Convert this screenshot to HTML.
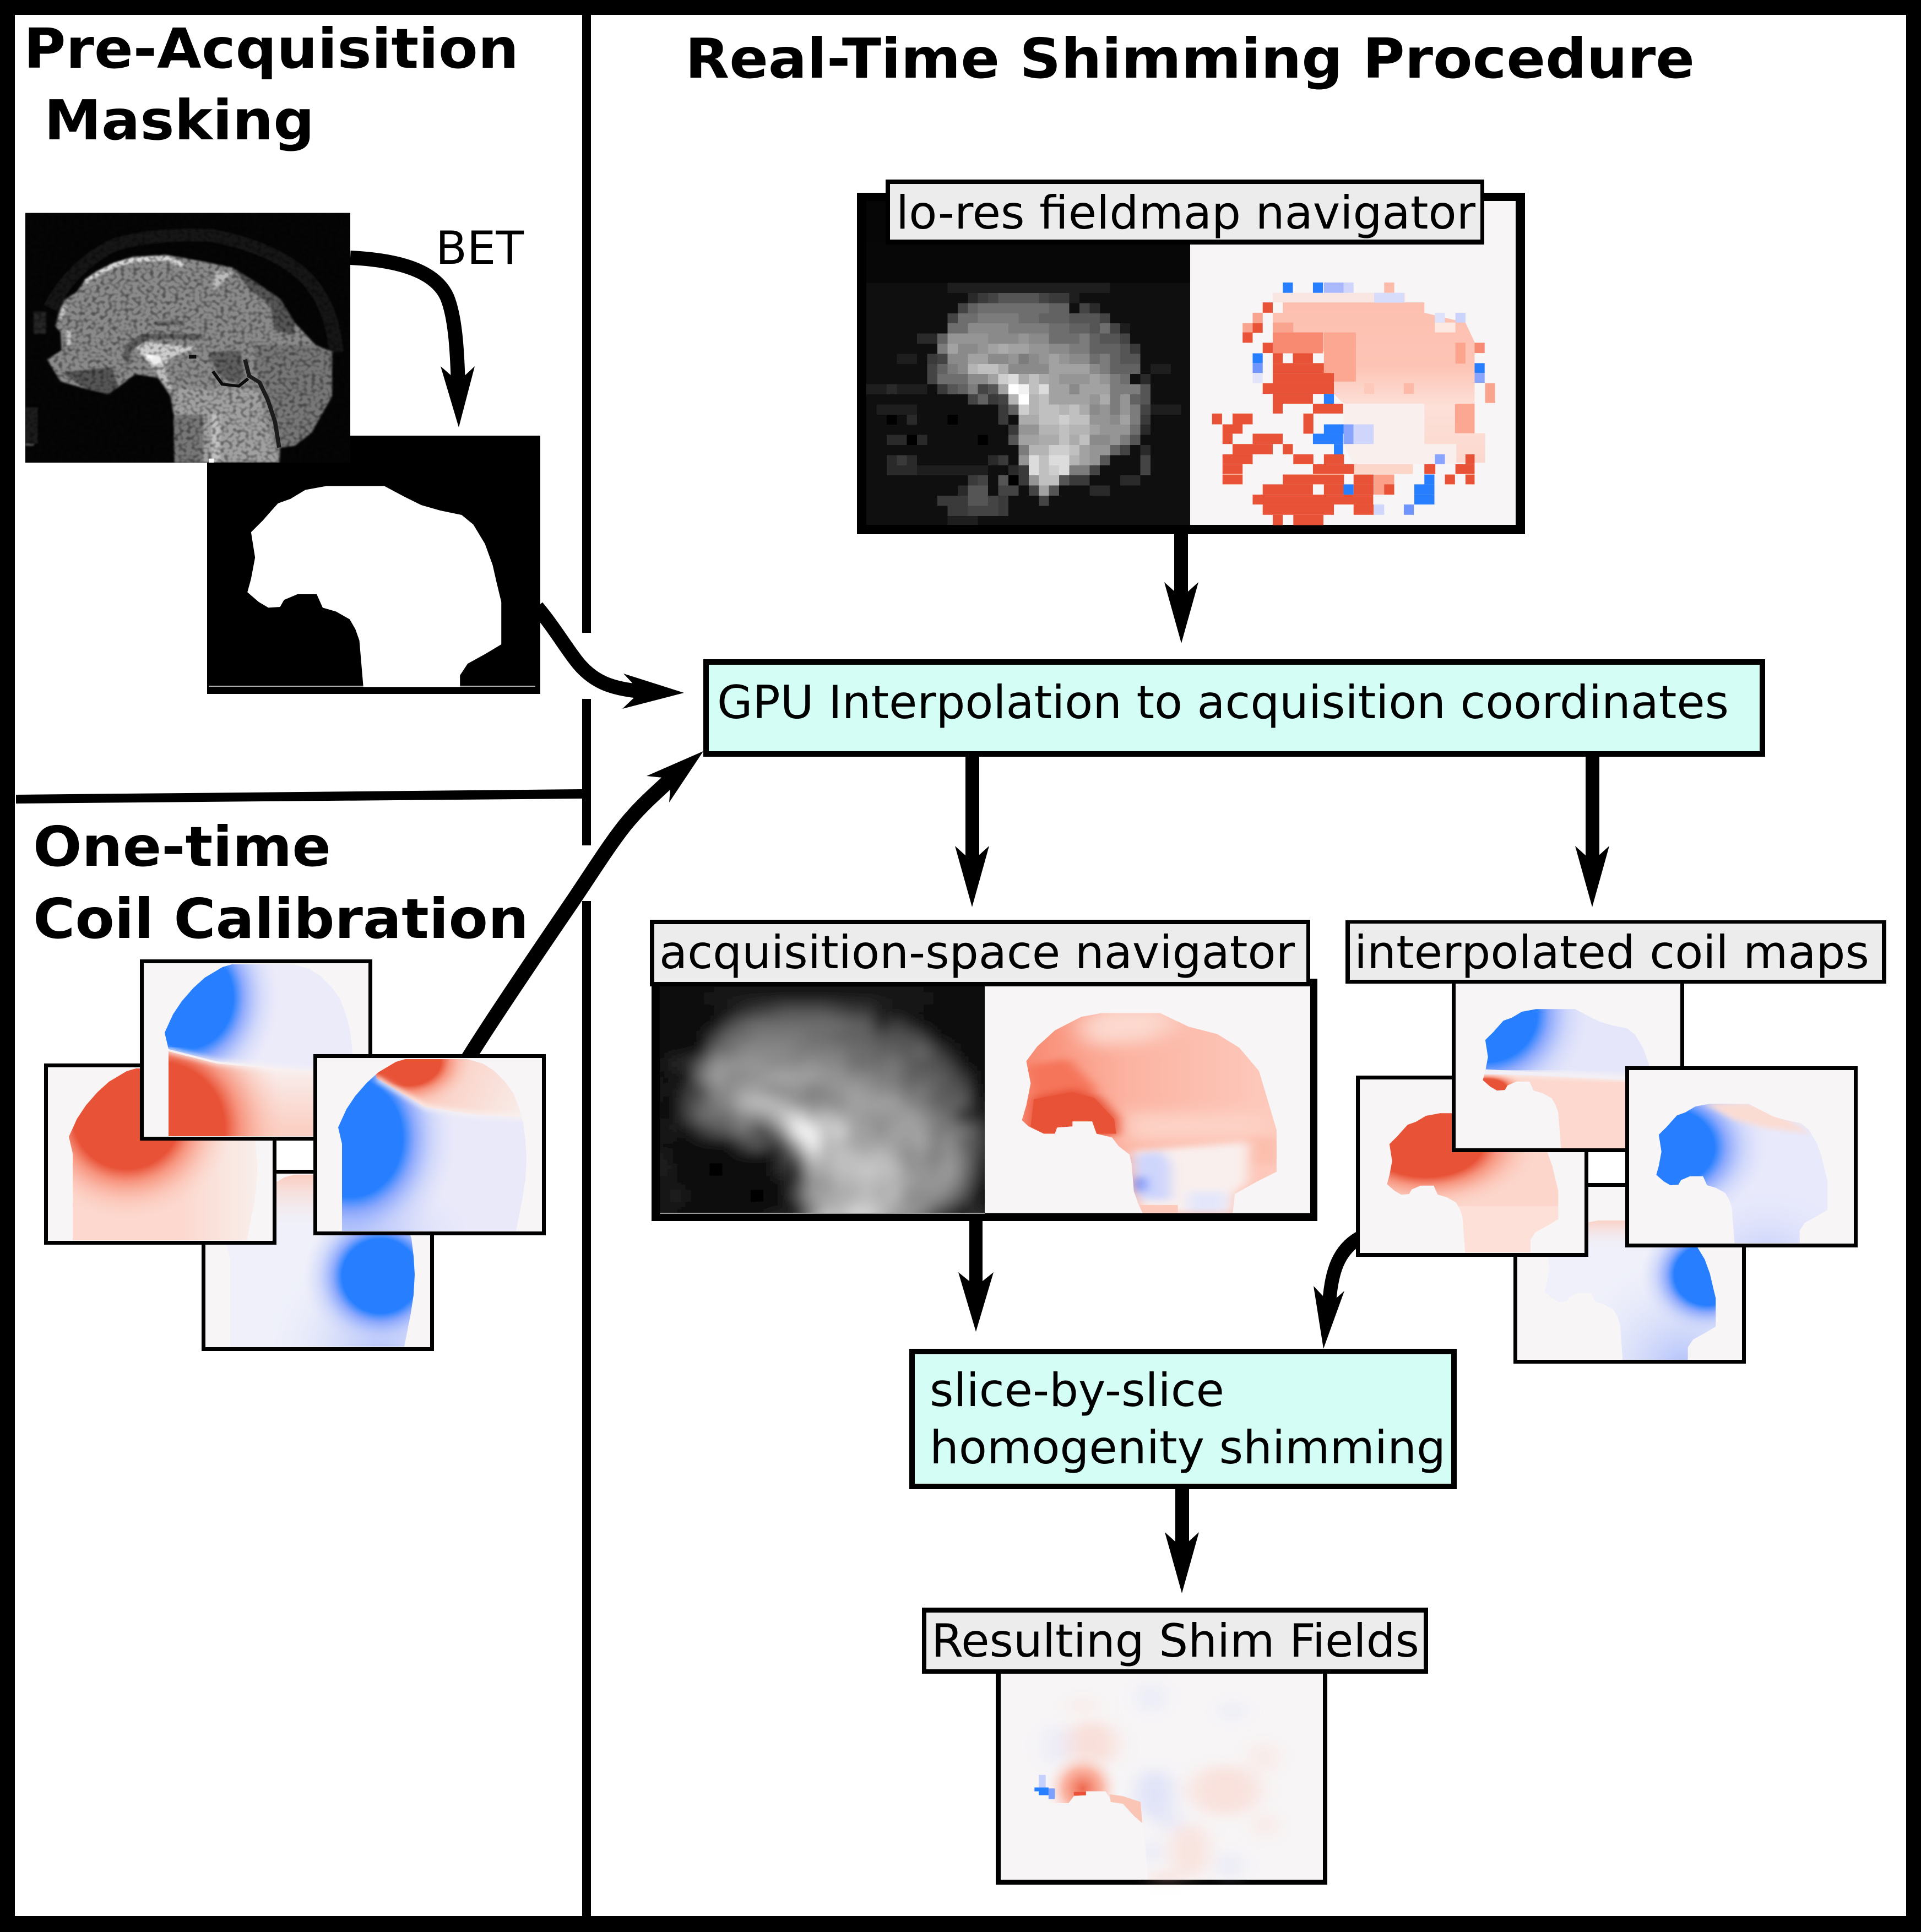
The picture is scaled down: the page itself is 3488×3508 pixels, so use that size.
<!DOCTYPE html>
<html><head><meta charset="utf-8"><style>html,body{margin:0;padding:0;background:#fff}svg{display:block}
text{font-family:"DejaVu Sans","Liberation Sans",sans-serif;fill:#000}
.b{font-weight:bold;font-size:100px}.n{font-size:83px}</style></head><body>
<svg xmlns="http://www.w3.org/2000/svg" width="3488" height="3508" viewBox="0 0 3488 3508">
<defs>
<clipPath id="cb"><path transform="scale(.408 .314)" d="M469,1000L457,793L445,749L428,711L387,681L347,666L329,614L271,614L231,636L219,663L184,666L155,644L121,606L132,554L144,472L132,374L167,329L190,295L213,262L250,245L295,210L358,195L532,195L590,235L643,269L700,290L764,307L799,344L834,419L857,501L869,569L883,644L883,808L834,846L782,883L759,928L759,1000Z"/></clipPath>
<clipPath id="ch"><path d="M45,314L45,156L38,126L53,93L69,69L90,45L111,26L143,7L160,2L272,2L300,10L321,23L340,42L356,64L366,90L374,118L378,150L380,183L378,220L373,253L361,314Z"/></clipPath>
<linearGradient id="sb"><stop offset="0" stop-color="#277fff"/><stop offset=".5" stop-color="#277fff"/><stop offset=".62" stop-color="#7f9ffd" stop-opacity=".85"/><stop offset=".8" stop-color="#b9c7fb" stop-opacity=".5"/><stop offset="1" stop-color="#d5dbfb" stop-opacity="0"/></linearGradient>
<linearGradient id="sr"><stop offset="0" stop-color="#e85338"/><stop offset=".5" stop-color="#e85338"/><stop offset=".62" stop-color="#f68a72" stop-opacity=".85"/><stop offset=".8" stop-color="#fbb6a5" stop-opacity=".5"/><stop offset="1" stop-color="#fcd6cb" stop-opacity="0"/></linearGradient>
<radialGradient id="ga" href="#sb" gradientUnits="userSpaceOnUse" cx="0" cy="0" r="1" gradientTransform="translate(80 62) scale(165 185)"/>
<radialGradient id="ra" href="#sr" gradientUnits="userSpaceOnUse" cx="0" cy="0" r="1" gradientTransform="translate(30 300) scale(235 240)"/>
<radialGradient id="rb" href="#sr" gradientUnits="userSpaceOnUse" cx="0" cy="0" r="1" gradientTransform="translate(143 90) scale(195 190)"/>
<radialGradient id="gc" href="#sb" gradientUnits="userSpaceOnUse" cx="0" cy="0" r="1" gradientTransform="translate(318 186) scale(140 135)"/>
<radialGradient id="gc2" gradientUnits="userSpaceOnUse" cx="0" cy="0" r="1" gradientTransform="translate(320 330) scale(220 220)"><stop offset="0" stop-color="#b0c0fb"/><stop offset="1" stop-color="#eff0fa" stop-opacity="0"/></radialGradient>
<linearGradient id="pc" gradientUnits="userSpaceOnUse" x1="0" y1="0" x2="0" y2="100"><stop offset="0" stop-color="#fbcabc"/><stop offset="1" stop-color="#f7efef" stop-opacity="0"/></linearGradient>
<linearGradient id="pg" gradientUnits="userSpaceOnUse" x1="0" y1="60" x2="0" y2="115"><stop offset="0" stop-color="#fbd0c4"/><stop offset="1" stop-color="#f2f0fa" stop-opacity="0"/></linearGradient>
<linearGradient id="lb" gradientUnits="userSpaceOnUse" x1="240" y1="0" x2="385" y2="0"><stop offset="0" stop-color="#f8efec" stop-opacity="0"/><stop offset="1" stop-color="#f8efec"/></linearGradient>
<linearGradient id="la" gradientUnits="userSpaceOnUse" x1="0" y1="190" x2="0" y2="300"><stop offset="0" stop-color="#f8efee"/><stop offset="1" stop-color="#fbd0c4"/></linearGradient>
<linearGradient id="ld" gradientUnits="userSpaceOnUse" x1="170" y1="10" x2="390" y2="110"><stop offset="0" stop-color="#fbc4b5"/><stop offset="1" stop-color="#f8f0ee"/></linearGradient>
<radialGradient id="gd" href="#sb" gradientUnits="userSpaceOnUse" cx="0" cy="0" r="1" gradientTransform="translate(60 145) scale(190 215)"/>
<radialGradient id="gd2" gradientUnits="userSpaceOnUse" cx="0" cy="0" r="1" gradientTransform="translate(60 325) scale(230 130)"><stop offset="0" stop-color="#a3b6fc"/><stop offset="1" stop-color="#e9e9fa" stop-opacity="0"/></radialGradient>
<radialGradient id="rd" href="#sr" gradientUnits="userSpaceOnUse" cx="0" cy="0" r="1" gradientTransform="translate(165 5) scale(120 90)"/>
<radialGradient id="ge" href="#sb" gradientUnits="userSpaceOnUse" cx="0" cy="0" r="1" gradientTransform="translate(55 70) scale(186 175)"/>
<radialGradient id="re" href="#sr" gradientUnits="userSpaceOnUse" cx="0" cy="0" r="1" gradientTransform="translate(55 205) scale(75 35)"/>
<radialGradient id="rf" href="#sr" gradientUnits="userSpaceOnUse" cx="0" cy="0" r="1" gradientTransform="translate(120 115) scale(210 125)"/>
<radialGradient id="gg" href="#sb" gradientUnits="userSpaceOnUse" cx="0" cy="0" r="1" gradientTransform="translate(345 160) scale(120 110)"/>
<radialGradient id="gh" href="#sb" gradientUnits="userSpaceOnUse" cx="0" cy="0" r="1" gradientTransform="translate(60 140) scale(190 145)"/>
<radialGradient id="gh2" gradientUnits="userSpaceOnUse" cx="0" cy="0" r="1" gradientTransform="translate(250 330) scale(170 120)"><stop offset="0" stop-color="#c9d2fb"/><stop offset="1" stop-color="#e8e9fb" stop-opacity="0"/></radialGradient>
<radialGradient id="fr" gradientUnits="userSpaceOnUse" cx="0" cy="0" r="1" gradientTransform="translate(495 990) scale(110 200)"><stop offset="0" stop-color="#ee6a50"/><stop offset=".5" stop-color="#fbb7a6"/><stop offset="1" stop-color="#f7f5f6" stop-opacity="0"/></radialGradient>
<linearGradient id="lp" gradientUnits="userSpaceOnUse" x1="0" y1="558" x2="0" y2="1210"><stop offset="0" stop-color="#fdc0b0"/><stop offset=".4" stop-color="#fdc4b5"/><stop offset=".65" stop-color="#fde0d8"/><stop offset="1" stop-color="#fbd8ce"/></linearGradient>
<linearGradient id="an" gradientUnits="userSpaceOnUse" x1="895" y1="0" x2="1465" y2="0"><stop offset="0" stop-color="#f88a72"/><stop offset=".4" stop-color="#fcb3a1"/><stop offset="1" stop-color="#fdcabd"/></linearGradient>
<filter id="bl" x="-10%" y="-10%" width="120%" height="120%"><feGaussianBlur stdDeviation="14"/></filter>
<filter id="bx" x="-20%" y="-20%" width="140%" height="140%"><feGaussianBlur stdDeviation="30"/></filter>
<filter id="bs" x="-10%" y="-10%" width="120%" height="120%"><feGaussianBlur stdDeviation="5"/></filter>
<filter id="gb" x="-5%" y="-5%" width="110%" height="110%"><feGaussianBlur stdDeviation=".55"/></filter>
<filter id="nz" x="0" y="0" width="100%" height="100%"><feTurbulence type="fractalNoise" baseFrequency=".05" numOctaves="1" seed="4"/><feColorMatrix values="0 0 0 0 0 0 0 0 0 0 0 0 0 0 0 0 0 0 3 -1.3"/><feComposite in2="SourceAlpha" operator="in"/></filter>
<clipPath id="acl"><rect x="1198" y="1791" width="590" height="412"/></clipPath>
<clipPath id="abr"><polygon points="1130,1000 1105,965 1090,930 1055,915 1045,865 1000,865 1000,885 965,890 960,915 935,915 900,885 885,860 895,800 905,710 895,620 920,560 960,495 1020,440 1065,425 1200,425 1265,480 1330,510 1380,565 1425,660 1440,750 1465,900 1465,1070 1420,1110 1370,1160 1365,1238 1160,1238 1150,1200 1140,1150 1135,1040"/></clipPath>
<g id="lr">
<rect width="32" height="28" fill="#0f0f0f"/><rect width="32" height="4" fill="#070707"/>
<path fill="#1e1e1e" d="M8 4h16v1h-16zM20 5h1v1h-1zM25 8h1v1h-1zM8 27h3v1h-3zM0 14h6v1h-6zM1 16h4v1h-4zM2 22h10v1h-10zM25 14h0v0zM28 16h3v1h-3zM3 11h2v1h-2zM28 12h2v1h-2z"/>
<path fill="#2a2a2a" d="M10 5h1v1h-1zM22 6h1v1h-1zM5 9h2v1h-2zM27 13h1v1h-1zM2 14h1v1h-1zM4 17h1v1h-1zM27 18h1v1h-1zM2 19h2v1h-2zM5 19h1v1h-1zM27 20h1v1h-1zM2 21h1v1h-1zM4 21h1v1h-1zM12 21h1v1h-1zM2 22h3v1h-3zM14 22h1v1h-1zM25 23h2v1h-2zM9 24h1v1h-1zM22 24h2v1h-2z"/>
<path fill="#3a3a3a" d="M11 5h1v1h-1zM18 5h1v1h-1zM6 11h1v1h-1zM12 15h1v1h-1zM7 14h1v1h-1zM13 16h1v1h-1zM13 17h1v1h-1zM3 21h1v1h-1zM13 21h1v1h-1zM15 22h1v1h-1zM10 23h1v1h-1zM15 23h1v1h-1zM20 23h2v1h-2zM7 25h3v1h-3zM13 25h1v1h-1zM13 26h1v1h-1zM8 26h2v1h-2zM26 10h1v1h-1zM19 5h1v1h-1zM14 18h1v1h-1zM27 17h1v1h-1z"/>
<path fill="#444" d="M12 5h1v1h-1zM17 5h1v1h-1zM9 6h1v1h-1zM21 6h1v1h-1zM8 7h1v1h-1zM23 7h1v1h-1zM24 8h1v1h-1zM25 9h1v1h-1zM6 12h1v1h-1zM7 11h1v1h-1zM6 13h1v1h-1zM10 15h1v1h-1zM11 14h1v1h-1zM13 15h1v1h-1zM27 16h1v1h-1zM25 20h1v1h-1zM27 21h1v2h-1zM22 22h1v1h-1zM11 23h1v1h-1zM13 24h2v1h-2zM16 24h1v1h-1zM12 25h1v1h-1zM17 25h1v1h-1zM10 26h3v1h-3z"/>
<path fill="#555" d="M13 5h4v1h-4zM20 6h0v0zM20 7h3v1h-3zM22 8h1v1h-1zM23 9h2v1h-2zM25 10h1v1h-1zM25 11h1v1h-1zM26 11h1v1h-1zM8 14h1v1h-1zM12 14h1v1h-1zM27 14h1v2h-1zM14 19h1v1h-1zM26 19h1v1h-1zM23 21h1v1h-1zM13 23h1v1h-1zM10 24h2v1h-2zM10 25h2v1h-2zM19 23h1v1h-1zM18 24h1v1h-1z"/>
<path fill="#626262" d="M10 6h1v1h-1zM17 7h3v1h-3zM18 6h2v1h-2zM20 8h2v1h-2zM22 9h1v1h-1zM24 10h1v1h-1zM22 10h2v1h-2zM24 11h1v1h-1zM9 14h1v1h-1zM11 15h1v1h-1zM14 16h1v1h-1zM26 15h1v1h-1zM24 20h1v1h-1zM7 9h1v1h-1zM7 12h1v1h-1zM24 12h3v1h-3z"/>
<path fill="#6e6e6e" d="M11 6h2v1h-2zM13 6h1v1h-1zM14 6h4v1h-4zM9 7h2v1h-2zM15 7h2v1h-2zM8 8h2v1h-2zM18 8h2v1h-2zM23 8h1v1h-1zM18 9h2v1h-2zM20 9h1v1h-1zM22 11h1v1h-1zM7 13h3v1h-3zM25 13h1v1h-1zM26 18h1v1h-1z"/>
<path fill="#7c7c7c" d="M11 7h4v1h-4zM14 8h4v1h-4zM21 9h1v1h-1zM20 10h2v1h-2zM23 11h1v1h-1zM15 11h1v1h-1zM8 12h1v1h-1zM23 12h1v1h-1zM24 13h1v1h-1zM10 14h1v1h-1zM24 14h3v1h-3zM24 15h1v1h-1zM24 16h1v1h-1zM26 16h1v1h-1zM26 17h1v1h-1zM7 10h1v1h-1zM25 19h1v1h-1zM20 22h2v1h-2zM15 20h1v1h-1z"/>
<path fill="#8a8a8a" d="M10 8h1v1h-1zM11 8h3v1h-3zM12 9h3v1h-3zM16 9h1v1h-1zM17 9h1v1h-1zM9 10h2v1h-2zM18 10h2v1h-2zM12 11h2v1h-2zM16 11h1v1h-1zM20 11h2v1h-2zM14 12h4v1h-4zM22 12h1v1h-1zM10 13h2v1h-2zM20 14h1v1h-1zM22 16h1v1h-1zM24 17h1v1h-1zM22 19h2v1h-2zM8 11h2v1h-2zM9 12h1v1h-1z"/>
<path fill="#959595" d="M8 9h3v1h-3zM11 9h1v1h-1zM15 9h1v1h-1zM16 10h2v1h-2zM19 11h1v1h-1zM11 10h1v1h-1zM14 11h1v1h-1zM17 11h1v1h-1zM19 13h3v1h-3zM23 13h1v1h-1zM22 15h1v1h-1zM23 16h1v1h-1zM25 16h1v1h-1zM25 15h1v1h-1zM22 17h2v1h-2zM15 18h2v1h-2zM23 18h2v1h-2zM25 18h1v1h-1zM24 19h1v1h-1zM22 20h2v1h-2zM15 21h1v1h-1zM22 21h1v1h-1zM16 23h1v1h-1z"/>
<path fill="#a2a2a2" d="M8 10h1v1h-1zM12 10h1v1h-1zM14 10h2v1h-2zM10 11h2v1h-2zM18 11h1v1h-1zM18 12h2v1h-2zM20 12h2v1h-2zM12 13h1v1h-1zM18 13h1v1h-1zM22 13h1v1h-1zM13 14h1v1h-1zM18 14h2v1h-2zM21 14h3v1h-3zM18 15h4v1h-4zM25 17h1v1h-1zM22 18h1v1h-1zM15 19h2v1h-2zM21 20h1v1h-1zM21 21h1v1h-1zM17 24h1v1h-1z"/>
<path fill="#ababab" d="M13 10h1v1h-1zM13 12h1v1h-1zM15 13h1v1h-1zM17 13h1v1h-1zM23 15h1v1h-1zM21 16h1v1h-1zM15 17h2v1h-2zM17 19h2v1h-2zM20 19h1v1h-1z"/>
<path fill="#b4b4b4" d="M10 12h1v1h-1zM14 15h1v1h-1zM16 15h1v1h-1zM16 16h1v1h-1zM17 18h2v1h-2zM20 18h1v1h-1zM16 20h2v1h-2zM20 21h1v1h-1zM19 16h1v1h-1zM21 18h1v1h-1z"/>
<path fill="#c0c0c0" d="M11 12h2v1h-2zM16 13h1v1h-1zM16 14h1v1h-1zM17 15h1v1h-1zM17 16h2v1h-2zM20 16h1v1h-1zM17 17h2v1h-2zM20 17h2v1h-2zM19 18h1v1h-1zM19 19h1v1h-1zM21 19h1v1h-1zM20 20h1v1h-1zM17 21h1v1h-1zM17 22h1v1h-1zM17 23h2v1h-2z"/>
<path fill="#cecece" d="M13 13h1v1h-1zM15 16h1v1h-1zM19 17h1v1h-1zM18 20h2v1h-2zM18 22h1v1h-1z"/>
<path fill="#dcdcdc" d="M14 13h1v1h-1zM17 14h1v1h-1zM16 21h1v2h-1zM18 21h2v1h-2zM19 22h1v1h-1z"/>
<path fill="#f2f2f2" d="M15 14h1v1h-1z"/>
<path fill="#fff" d="M14 14h1v1h-1zM15 15h1v1h-1z"/>
<path fill="#000" d="M8 17h1v1h-1zM4 19h1v1h-1zM11 19h1v1h-1zM14 23h1v1h-1zM2 17h1v1h-1z"/>
</g>
</defs>
<rect width="3488" height="3508" fill="#fff"/>
<!-- outer frame -->
<rect x="0" y="0" width="3488" height="27"/><rect x="0" y="3479" width="3488" height="29"/><rect x="0" y="0" width="27" height="3508"/><rect x="3461" y="0" width="27" height="3508"/>
<!-- dividers -->
<rect x="1057" y="0" width="16" height="1149"/><rect x="1057" y="1269" width="16" height="266"/><rect x="1057" y="1636" width="16" height="1860"/>
<polygon points="29,1443 1057,1433 1057,1450 29,1459"/>
<!-- titles -->
<text class="b" x="43" y="123" textLength="899" lengthAdjust="spacingAndGlyphs">Pre-Acquisition</text>
<text class="b" x="80" y="253" textLength="491" lengthAdjust="spacingAndGlyphs">Masking</text>
<text class="b" x="1244" y="141" textLength="1833" lengthAdjust="spacingAndGlyphs">Real-Time Shimming Procedure</text>
<text class="b" x="60" y="1572" textLength="541" lengthAdjust="spacingAndGlyphs">One-time</text>
<text class="b" x="60" y="1703" textLength="900" lengthAdjust="spacingAndGlyphs">Coil Calibration</text>
<text class="n" x="791" y="479" textLength="160" lengthAdjust="spacingAndGlyphs">BET</text>
<!-- mask arrow + mask -->
<path d="M975,1102C1005,1138 1025,1172 1045,1198C1075,1238 1110,1250 1160,1255" fill="none" stroke="#000" stroke-width="26"/>
<polygon points="1242,1258 1132,1223 1148,1240 1152,1266 1130,1287"/>
<rect x="376" y="791" width="605" height="469"/>
<rect x="379" y="1245" width="593" height="2" fill="#aaa"/>
<path transform="translate(376 791) scale(.605 .469)" fill="#fff" d="M469,973L457,793L445,749L428,711L387,681L347,666L329,614L271,614L231,636L219,663L184,666L155,644L121,606L132,554L144,472L132,374L167,329L190,295L213,262L250,245L295,210L358,195L532,195L590,235L643,269L700,290L764,307L799,344L834,419L857,501L869,569L883,644L883,808L834,846L782,883L759,928L759,973Z"/>
<!-- MRI -->
<svg x="46" y="386" width="590" height="454" viewBox="0 0 1568 1362" preserveAspectRatio="none">
<rect width="1568" height="1362" fill="#050505"/>
<g filter="url(#bs)">
<path d="M120,520Q220,300 420,180Q600,110 900,125Q1200,190 1350,350Q1480,500 1500,760" fill="none" stroke="#181818" stroke-width="70"/>
<rect x="0" y="1180" width="40" height="90" fill="#5a5a5a"/><rect x="40" y="540" width="60" height="120" fill="#262626"/><rect x="0" y="1060" width="60" height="200" fill="#1a1a1a"/>
<polygon fill="#8a8a8a" points="145,620 165,530 190,475 250,430 285,370 350,320 420,275 520,240 680,230 830,260 1000,300 1100,370 1230,470 1300,600 1400,720 1480,760 1480,1000 1430,1100 1380,1200 1300,1270 1230,1280 1225,1362 720,1362 715,1100 700,1000 640,900 530,880 450,950 400,990 290,960 170,920 105,800 175,750 170,650"/>
<polygon fill="#555" points="1000,300 1100,370 1230,470 1300,600 1300,670 1200,640 1180,500 1080,420"/>
<polygon fill="#777" points="1100,720 1400,720 1480,760 1480,1000 1430,1100 1380,1200 1300,1270 1230,1280 1170,1050 1120,900"/>
<polygon fill="#666" points="620,590 770,590 770,615 620,615"/>
<polygon fill="#5c5c5c" points="480,720 560,660 850,660 860,690 600,690 510,760 500,830 470,800"/>
<polygon fill="#555" points="170,870 420,840 450,950 400,990 290,960"/>
<polygon fill="#a0a0a0" points="720,960 1120,960 1190,1250 1225,1362 720,1362"/>
<polygon fill="#777" points="715,1100 860,1100 860,1362 720,1362"/>
<rect x="900" y="1100" width="40" height="262" fill="#c0c0c0"/>
<polygon fill="#5e5e5e" points="880,760 1040,750 1060,900 1000,930 930,880"/>
<path d="M290,378L350,330L430,285L520,258L680,248L760,285" fill="none" stroke="#d8d8d8" stroke-width="24"/>
<path d="M172,575L190,510M210,640V720" fill="none" stroke="#c8c8c8" stroke-width="18"/>
<polygon fill="#bcbcbc" points="920,320 1000,325 960,370 910,420 905,395"/>
<polygon fill="#ccc" points="530,740 580,705 830,735 700,790 660,865 600,820"/>
<polygon fill="#bcbcbc" points="600,820 665,830 720,1000 690,960 640,890"/>
</g>
<rect width="1568" height="1362" fill="#000" filter="url(#nz)" opacity=".4"/>
<g filter="url(#bs)" opacity=".95"><polygon fill="#f2f2f2" points="575,770 650,780 660,815 620,830"/><rect x="585" y="775" width="30" height="20" fill="#fff"/></g>
<path d="M1060,800L1080,890L1130,925L1170,1020L1205,1140L1225,1280" fill="none" stroke="#1c1c1c" stroke-width="20"/>
<path d="M905,865L950,935L1030,945L1075,905" fill="none" stroke="#0c0c0c" stroke-width="16"/>
<rect x="790" y="775" width="35" height="20" fill="#0c0c0c"/>
<rect x="885" y="1340" width="25" height="22" fill="#fff"/>
</svg>
<rect x="46" y="386" width="590" height="1" fill="#999"/>
<!-- BET arrow -->
<path d="M636,468C720,472 790,490 812,540C826,575 830,630 832,700" fill="none" stroke="#000" stroke-width="26"/>
<polygon points="833,776 800,665 832,693 862,665"/>
<!-- coil curve to GPU -->
<path d="M845,1930C880,1872 980,1724 1040,1636C1075,1584 1107,1533 1135,1498C1160,1467 1185,1445 1212,1420" fill="none" stroke="#000" stroke-width="27"/>
<polygon points="1277,1364 1174,1409 1203,1412 1217,1433 1215,1457"/>
<!-- left coil boxes -->
<!-- C -->
<rect x="366" y="2124" width="422" height="329"/>
<g transform="translate(373 2131)"><rect width="408" height="315" fill="#f7f5f6"/><g clip-path="url(#ch)"><rect width="408" height="314" fill="#eff0fa"/><rect width="408" height="100" fill="url(#pc)"/><rect width="408" height="314" fill="url(#gc2)"/><rect width="408" height="314" fill="url(#gc)"/></g></g>
<!-- B -->
<rect x="80" y="1931" width="422" height="329"/>
<g transform="translate(87 1938)"><rect width="408" height="315" fill="#f7f5f6"/><g clip-path="url(#ch)"><rect width="408" height="314" fill="#fcd8ce"/><rect width="408" height="314" fill="url(#lb)"/><rect width="408" height="314" fill="url(#rb)"/></g></g>
<!-- A -->
<rect x="254" y="1742" width="422" height="329"/>
<g transform="translate(261 1749)"><rect width="408" height="315" fill="#f7f5f6"/><g clip-path="url(#ch)">
<rect width="408" height="314" fill="#ecebfa"/><rect width="408" height="314" fill="url(#ga)" clip-path="polygon(0 0,408px 0,408px 200px,300px 194px,132px 178px,45px 156px,0 156px)"/>
<polygon points="45,158 132,180 300,196 408,200 408,314 0,314 0,158" fill="url(#la)"/>
<rect width="408" height="314" fill="url(#ra)" clip-path="polygon(45px 160px,132px 182px,300px 198px,408px 202px,408px 314px,0 314px,0 160px)"/>
<path d="M40,157L132,180L300,196L408,200" fill="none" stroke="#f9f2f1" stroke-width="8" filter="url(#bs)"/></g></g>
<!-- D -->
<rect x="569" y="1914" width="422" height="329"/>
<g transform="translate(576 1921)"><rect width="408" height="315" fill="#f7f5f6"/><g clip-path="url(#ch)">
<rect width="408" height="314" fill="#e9e9fa"/><rect width="408" height="314" fill="url(#gd2)"/>
<rect width="408" height="314" fill="url(#gd)" clip-path="polygon(0 0,100px 0,108px 37px,196px 89px,280px 102px,408px 110px,408px 314px,0 314px)"/>
<polygon points="100,0 108,37 196,89 280,102 408,110 408,0" fill="url(#ld)"/>
<rect width="408" height="314" fill="url(#rd)" clip-path="polygon(100px 0,108px 37px,196px 89px,280px 102px,408px 110px,408px 0)"/>
<path d="M108,37L196,89L280,102L408,110" fill="none" stroke="#f9f2f1" stroke-width="8" filter="url(#bs)"/></g></g>
<!-- Lo-res fieldmap -->
<rect x="1556" y="350" width="1213" height="620"/>
<rect x="1573" y="365" width="590" height="588" fill="#060606"/>
<use href="#lr" transform="translate(1573 440) scale(18.43 18.4)" shape-rendering="crispEdges"/>
<rect x="1556" y="953" width="1213" height="17"/>
<rect x="2161" y="365" width="591" height="588" fill="#f7f5f6"/>
<g transform="translate(1500 300) scale(.8292 .4464)">
<rect x="978" y="519" width="290" height="40" fill="#f9e6e2"/>
<polygon fill="url(#lp)" points="1000,558 1310,558 1310,600 1400,640 1420,720 1420,1090 1443,1090 1443,1210 1155,1210 1133,1134 1133,970 1112,930 1112,765 978,722 978,600"/>
<rect x="978" y="640" width="45" height="40" fill="#f9a48f"/><rect x="934" y="600" width="22" height="42" fill="#f9a48f"/><rect x="912" y="642" width="22" height="40" fill="#f9a48f"/>
<rect x="978" y="680" width="110" height="85" fill="#f88a72"/><rect x="1090" y="680" width="70" height="200" fill="#fca792"/>
<rect x="1333" y="640" width="45" height="40" fill="#fde8e2"/><rect x="1333" y="600" width="22" height="40" fill="#dfe2fb"/><rect x="1378" y="600" width="22" height="40" fill="#ccd3fb"/><rect x="1378" y="722" width="22" height="85" fill="#fba48e"/>
<polygon fill="#f9efed" points="1133,970 1310,970 1310,1134 1380,1134 1380,1216 1155,1216 1133,1134"/>
<rect x="1377" y="970" width="43" height="120" fill="#fca792"/><rect x="1265" y="887" width="22" height="43" fill="#fdb9a8"/><rect x="1178" y="887" width="22" height="43" fill="#fdc9bb"/>
<rect x="1155" y="1216" width="130" height="40" fill="#fdd6ca"/><rect x="1200" y="1258" width="44" height="82" fill="#fca08a"/>
<rect x="1443" y="887" width="22" height="80" fill="#f9a48f"/><rect x="1420" y="722" width="22" height="42" fill="#f68a72"/><rect x="978" y="558" width="22" height="42" fill="#f9f5f5"/>
<g fill="#e85338"><rect x="956" y="558" width="22" height="42"/><rect x="912" y="680" width="22" height="42"/><rect x="934" y="642" width="22" height="40"/><rect x="956" y="722" width="22" height="42"/><rect x="978" y="765" width="22" height="40"/><rect x="1022" y="765" width="44" height="40"/><rect x="978" y="805" width="112" height="40"/><rect x="978" y="845" width="134" height="42"/><rect x="956" y="887" width="156" height="43"/><rect x="978" y="930" width="88" height="40"/><rect x="978" y="970" width="22" height="40"/><rect x="1066" y="970" width="66" height="40"/><rect x="845" y="1010" width="22" height="44"/><rect x="890" y="1010" width="44" height="44"/><rect x="1045" y="1010" width="22" height="44"/><rect x="868" y="1054" width="44" height="38"/><rect x="1045" y="1054" width="22" height="38"/><rect x="868" y="1092" width="22" height="42"/><rect x="934" y="1092" width="66" height="42"/><rect x="890" y="1134" width="88" height="42"/><rect x="1000" y="1134" width="22" height="42"/><rect x="868" y="1176" width="66" height="40"/><rect x="1023" y="1176" width="44" height="40"/><rect x="1090" y="1176" width="44" height="40"/><rect x="868" y="1216" width="44" height="40"/><rect x="1066" y="1216" width="90" height="40"/><rect x="868" y="1258" width="44" height="40"/><rect x="1000" y="1258" width="134" height="40"/><rect x="1155" y="1258" width="44" height="40"/><rect x="956" y="1298" width="110" height="42"/><rect x="1090" y="1298" width="44" height="42"/><rect x="1155" y="1298" width="44" height="42"/><rect x="934" y="1340" width="264" height="40"/><rect x="956" y="1380" width="156" height="42"/><rect x="1155" y="1380" width="44" height="42"/><rect x="978" y="1422" width="22" height="42"/><rect x="1023" y="1422" width="66" height="42"/><rect x="1310" y="1216" width="24" height="40"/><rect x="1378" y="1216" width="42" height="40"/><rect x="1355" y="1258" width="22" height="40"/><rect x="1400" y="1258" width="20" height="40"/><rect x="1400" y="1176" width="20" height="40"/><rect x="1222" y="1298" width="22" height="42"/></g>
<g fill="#277fff"><rect x="1000" y="477" width="22" height="42"/><rect x="1066" y="477" width="22" height="42"/><rect x="934" y="765" width="22" height="40"/><rect x="1420" y="805" width="22" height="40"/><rect x="1090" y="930" width="22" height="40"/><rect x="1090" y="1054" width="44" height="38"/><rect x="1066" y="1092" width="66" height="42"/><rect x="1112" y="1134" width="20" height="42"/><rect x="1133" y="1298" width="22" height="42"/><rect x="1310" y="1258" width="22" height="40"/><rect x="1288" y="1298" width="44" height="42"/><rect x="1288" y="1340" width="44" height="40"/></g>
<rect x="1090" y="477" width="44" height="42" fill="#a9b9fc"/><rect x="1133" y="477" width="22" height="42" fill="#d0d6fb"/><rect x="934" y="805" width="22" height="40" fill="#7095fd"/><rect x="934" y="845" width="22" height="42" fill="#e2e4fa"/><rect x="1420" y="845" width="22" height="40" fill="#8aa5fd"/><rect x="1133" y="1054" width="22" height="80" fill="#8aa5fd"/><rect x="1155" y="1054" width="44" height="80" fill="#cfd5fb"/><rect x="1265" y="1380" width="22" height="42" fill="#6f94fd"/><rect x="1200" y="1380" width="22" height="42" fill="#cfd5fb"/><rect x="1333" y="1176" width="22" height="40" fill="#8aa5fd"/><rect x="1222" y="477" width="22" height="42" fill="#fdbbaa"/><rect x="1200" y="519" width="66" height="40" fill="#d8dcfb"/>
</g>
<!-- label 1 -->
<rect x="1608" y="326" width="1087" height="118"/><rect x="1616" y="334" width="1072" height="101" fill="#ececec"/>
<text class="n" x="1627" y="415" textLength="1052" lengthAdjust="spacingAndGlyphs">lo-res fieldmap navigator</text>
<!-- arrow 1 -->
<rect x="2132" y="970" width="25" height="120"/><polygon points="2145,1168 2114,1057 2145,1085 2176,1057"/>
<!-- GPU -->
<rect x="1282" y="1202" width="1918" height="167" fill="#d3fdf5" stroke="#000" stroke-width="10"/>
<text class="n" x="1302" y="1304" textLength="1837" lengthAdjust="spacingAndGlyphs">GPU Interpolation to acquisition coordinates</text>
<rect x="1753" y="1371" width="25" height="200"/><polygon points="1765,1647 1734,1536 1765,1564 1796,1536"/>
<rect x="2879" y="1371" width="25" height="200"/><polygon points="2891,1647 2860,1536 2891,1564 2922,1536"/>
<!-- acq nav -->
<rect x="1183" y="1777" width="1209" height="440"/>
<rect x="1198" y="1791" width="590" height="412" fill="#111"/>
<g clip-path="url(#acl)"><g transform="translate(1088.5 1705) scale(24.88 23.92)" filter="url(#gb)"><use href="#lr"/></g></g>
<rect x="1788" y="1791" width="591" height="412" fill="#f7f5f6"/>
<g transform="translate(1150 1650) scale(.7972 .4464)">
<polygon fill="url(#an)" points="1130,1000 1105,965 1090,930 1055,915 1045,865 1000,865 1000,885 965,890 960,915 935,915 900,885 885,860 895,800 905,710 895,620 920,560 960,495 1020,440 1065,425 1200,425 1265,480 1330,510 1380,565 1425,660 1440,750 1465,900 1465,1070 1420,1110 1370,1160 1365,1238 1160,1238 1150,1200 1140,1150 1135,1040"/>
<g clip-path="url(#abr)">
<g filter="url(#bx)">
<polygon fill="#fcd8ce" points="1010,470 1065,400 1210,400 1240,470 1180,540 1040,560"/>
<polygon fill="#fdd2c6" points="1110,830 1440,830 1440,930 1130,950"/>
</g>
<g filter="url(#bl)">
<polygon fill="#f5745a" points="895,640 990,610 1060,740 905,770"/>
<polygon fill="#f9efed" points="1135,985 1400,950 1400,1110 1370,1160 1365,1238 1160,1238 1140,1150"/>
<rect x="1400" y="930" width="70" height="110" fill="#fcbfae"/>
<polygon fill="#e85338" points="905,770 1000,730 1060,760 1105,850 1105,920 1055,925 900,925"/>
<polygon fill="#cfd6fc" points="1140,1000 1205,985 1225,1040 1225,1185 1152,1185 1140,1150"/>
<rect x="1142" y="1090" width="25" height="60" fill="#5f8afd"/>
<rect x="1262" y="1150" width="90" height="88" fill="#e4e7fb"/>
</g>
<polygon fill="#e85338" points="912,775 1000,745 1050,770 1095,855 1100,915 1055,915 1045,865 1000,865 1000,885 965,890 960,915 935,915 905,885"/>
<polygon fill="#fdc9bb" points="1152,1205 1240,1205 1240,1238 1160,1238"/>
</g>
</g>
<rect x="1198" y="2202" width="590" height="2" fill="#999"/>
<rect x="1180" y="1670" width="1199" height="121"/><rect x="1188" y="1678" width="1184" height="105" fill="#ececec"/>
<text class="n" x="1197" y="1758" textLength="1154" lengthAdjust="spacingAndGlyphs">acquisition-space navigator</text>
<rect x="1760" y="2217" width="24" height="125"/><polygon points="1772,2418 1740,2310 1772,2336 1804,2310"/>
<!-- right coil -->
<!-- arrow under -->
<path d="M2468,2248C2430,2270 2416,2310 2413,2375" fill="none" stroke="#000" stroke-width="25"/>
<polygon points="2403,2449 2385,2335 2415,2367 2441,2344"/>
<!-- G -->
<rect x="2748" y="2148" width="422" height="328"/>
<g transform="translate(2755 2155)"><rect width="408" height="314" fill="#f7f5f6"/><g clip-path="url(#cb)"><rect width="408" height="314" fill="#eff0fa"/><rect width="408" height="314" fill="url(#pg)"/><rect width="408" height="330" fill="url(#gc2)" transform="translate(-20 0)"/><rect width="408" height="314" fill="url(#gg)"/></g></g>
<!-- F -->
<rect x="2462" y="1953" width="422" height="329"/>
<g transform="translate(2469 1960)"><rect width="408" height="315" fill="#f7f5f6"/><g clip-path="url(#cb)"><rect width="408" height="314" fill="#fcd6cb"/><rect y="230" width="408" height="84" fill="#fde0d8"/><rect width="408" height="314" fill="url(#rf)"/></g></g>
<!-- E -->
<rect x="2636" y="1764" width="422" height="328"/>
<g transform="translate(2643 1771)"><rect width="408" height="314" fill="#f7f5f6"/><g clip-path="url(#cb)">
<rect width="408" height="314" fill="#e5e6fa"/>
<rect width="408" height="314" fill="url(#ge)" clip-path="polygon(0 0,408px 0,408px 190px,45px 170px,0 170px)"/>
<polygon points="0,178 150,182 408,195 408,314 0,314" fill="#fcd8ce"/>
<rect width="408" height="314" fill="url(#re)" clip-path="polygon(0 180px,408px 180px,408px 314px,0 314px)"/>
<path d="M45,174L150,178L408,192" fill="none" stroke="#f8f3f3" stroke-width="10" filter="url(#bs)"/></g></g>
<!-- H -->
<rect x="2951" y="1936" width="422" height="329"/>
<g transform="translate(2958 1943)"><rect width="408" height="315" fill="#f7f5f6"/><g clip-path="url(#cb)">
<rect width="408" height="314" fill="#e8e9fb"/><rect width="408" height="314" fill="url(#gh2)"/>
<rect width="408" height="314" fill="url(#gh)"/>
<polygon points="135,60 240,60 330,115 250,105 190,90" fill="#fbdcd3" filter="url(#bs)"/></g></g>
<!-- label -->
<rect x="2443" y="1671" width="982" height="115"/><rect x="2451" y="1677" width="966" height="102" fill="#ececec"/>
<text class="n" x="2459" y="1758" textLength="935" lengthAdjust="spacingAndGlyphs">interpolated coil maps</text>
<!-- slice box -->
<rect x="1656" y="2454" width="984" height="245" fill="#d3fdf5" stroke="#000" stroke-width="10"/>
<text class="n" x="1688" y="2553" textLength="535" lengthAdjust="spacingAndGlyphs">slice-by-slice</text>
<text class="n" x="1688" y="2657" textLength="937" lengthAdjust="spacingAndGlyphs">homogenity shimming</text>
<rect x="2134" y="2704" width="25" height="110"/><polygon points="2146,2893 2115,2782 2146,2810 2177,2782"/>
<!-- result -->
<rect x="1808" y="3030" width="602" height="392"/><rect x="1817" y="3030" width="585" height="383" fill="#f7f5f6"/>
<g transform="translate(1650 2900) scale(.6378 .3508)">
<g filter="url(#bx)" opacity=".5">
<ellipse cx="520" cy="760" rx="70" ry="120" fill="#fbc8ba"/><ellipse cx="420" cy="770" rx="35" ry="110" fill="#dfe3fb"/><ellipse cx="690" cy="520" rx="30" ry="80" fill="#d8defb"/><ellipse cx="920" cy="590" rx="25" ry="50" fill="#d8defb"/><ellipse cx="495" cy="560" rx="35" ry="35" fill="#fbdcd3"/>
<ellipse cx="900" cy="1000" rx="100" ry="130" fill="#fbcfc3"/><ellipse cx="800" cy="1310" rx="50" ry="140" fill="#fbcfc3"/><ellipse cx="1015" cy="1180" rx="20" ry="60" fill="#fbcfc3"/><ellipse cx="1010" cy="830" rx="35" ry="80" fill="#fbdcd3"/><ellipse cx="700" cy="1020" rx="50" ry="130" fill="#c6cffb"/><ellipse cx="740" cy="1150" rx="30" ry="70" fill="#d4daf9"/><ellipse cx="915" cy="1390" rx="25" ry="70" fill="#d4daf9"/><ellipse cx="690" cy="1320" rx="16" ry="60" fill="#c6cffb"/><ellipse cx="730" cy="1450" rx="45" ry="20" fill="#fbbcab"/>
</g>
<ellipse cx="495" cy="990" rx="110" ry="200" fill="url(#fr)"/>
<polygon fill="#f7f5f6" points="430,1066 455,1066 470,1030 505,1025 505,1005 560,1005 580,1062 640,1130 670,1200 680,1462 262,1462 262,1066"/>
<polygon fill="#fbc5b6" points="572,1020 610,1030 660,1060 665,1170 640,1130 610,1070 575,1060"/>
<rect x="470" y="1008" width="34" height="18" fill="#e85338"/>
<rect x="370" y="920" width="20" height="70" fill="#c5d0fc"/><rect x="398" y="990" width="18" height="55" fill="#7ca0fd"/><rect x="358" y="985" width="40" height="20" fill="#277fff"/><rect x="370" y="1000" width="28" height="25" fill="#277fff"/>
</g>
<rect x="1674" y="2919" width="919" height="120"/><rect x="1682" y="2928" width="903" height="103" fill="#ececec"/>
<text class="n" x="1691" y="3008" textLength="886" lengthAdjust="spacingAndGlyphs">Resulting Shim Fields</text>
</svg>
</body></html>
